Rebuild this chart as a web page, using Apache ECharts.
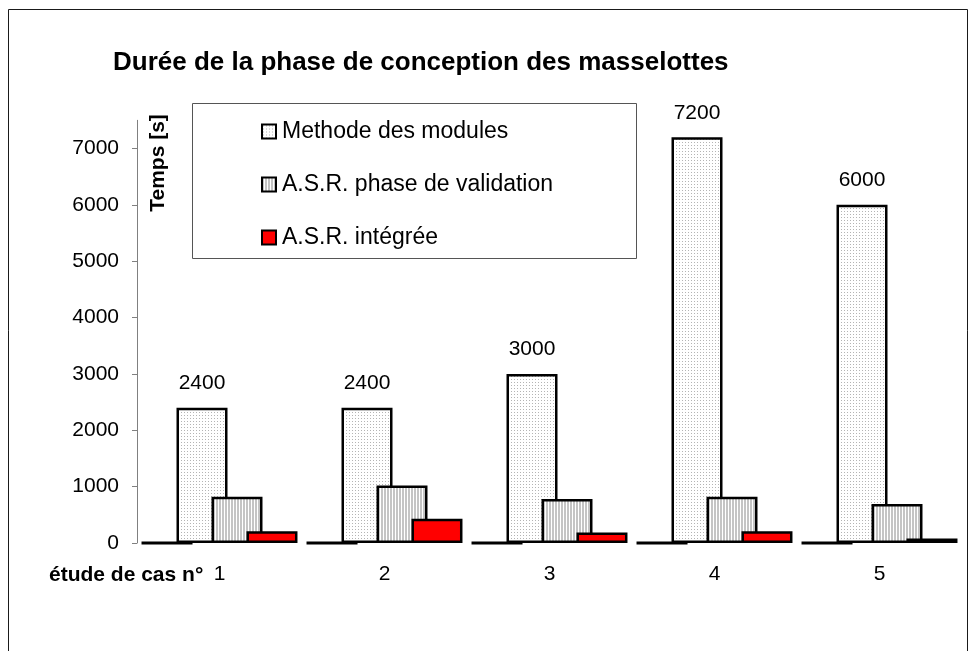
<!DOCTYPE html>
<html>
<head>
<meta charset="utf-8">
<script src="https://cdn.jsdelivr.net/npm/echarts@6/dist/echarts.min.js"></script>
<style>
  html, body { margin: 0; padding: 0; background: #fff; }
  #chart { width: 969px; height: 651px; }
</style>
</head>
<body>
<div id="chart"></div>
<script>
// Case studies on the category axis
const categories = ['1', '2', '3', '4', '5'];
// Empty leading series of each group (drawn as the thick baseline stub)
const baseSeries = [0, 0, 0, 0, 0];
// Durations in seconds
const methodeModules = [2400, 2400, 3000, 7200, 6000];
const asrValidation = [820, 1020, 780, 820, 690];
const asrIntegree = [210, 430, 185, 210, 80];
// Value axis ticks
const yTicks = [0, 1000, 2000, 3000, 4000, 5000, 6000, 7000];
const yMax = 7500;

const FONT = '"Liberation Sans", Arial, sans-serif';
const BORDER = 2.5;

// Fine dotted fill
function dotPattern() {
  const c = document.createElement('canvas');
  c.width = 3; c.height = 3;
  const g = c.getContext('2d');
  g.fillStyle = '#ffffff';
  g.fillRect(0, 0, 3, 3);
  g.fillStyle = '#b4b4b4';
  g.fillRect(1, 1, 1, 1);
  return { image: c, repeat: 'repeat' };
}
// Vertical gray stripes
function stripePattern() {
  const c = document.createElement('canvas');
  c.width = 3; c.height = 3;
  const g = c.getContext('2d');
  g.fillStyle = '#ffffff';
  g.fillRect(0, 0, 3, 3);
  g.fillStyle = '#c4c4c4';
  g.fillRect(0, 0, 2, 3);
  return { image: c, repeat: 'repeat' };
}

const chart = echarts.init(document.getElementById('chart'), null, { renderer: 'canvas' });

const barCommon = {
  type: 'bar',
  barWidth: 51,
  barGap: '-31.4%',
  animation: false
};

chart.setOption({
  backgroundColor: '#ffffff',
  animation: false,
  title: {
    text: 'Durée de la phase de conception des masselottes',
    left: 113,
    top: 50,
    padding: 0,
    textStyle: { fontFamily: FONT, fontSize: 26, fontWeight: 'bold', color: '#000' }
  },
  legend: {
    data: ['Methode des modules', 'A.S.R. phase de validation', 'A.S.R. intégrée'],
    orient: 'vertical',
    left: 261,
    top: 120,
    padding: 0,
    itemWidth: 14,
    itemHeight: 14,
    itemGap: 30,
    icon: 'rect',
    itemStyle: { borderWidth: 2, borderColor: '#000' },
    textStyle: { fontFamily: FONT, fontSize: 23, color: '#000', padding: [0, 0, 0, 1] }
  },
  grid: {
    left: 137,
    right: 7,
    top: 120.3,
    bottom: 108,
    containLabel: false,
    outerBoundsMode: 'none'
  },
  xAxis: {
    type: 'category',
    data: categories,
    axisLine: { show: false },
    axisTick: { show: false },
    axisLabel: { fontFamily: FONT, fontSize: 21, color: '#000', margin: 21 }
  },
  yAxis: {
    type: 'value',
    min: 0,
    max: yMax,
    interval: 1000,
    splitLine: { show: false },
    axisLine: { show: true, lineStyle: { color: '#808080', width: 1 } },
    axisTick: { show: true, length: 5, lineStyle: { color: '#808080' }, customValues: yTicks },
    axisLabel: {
      fontFamily: FONT, fontSize: 21, color: '#000', margin: 18, customValues: yTicks,
      formatter: function (v) { return String(v); }
    }
  },
  graphic: [
    {
      type: 'rect',
      shape: { x: 8.5, y: 9.5, width: 959, height: 660 },
      style: { fill: 'none', stroke: '#1a1a1a', lineWidth: 1 },
      silent: true, z: -10
    },
    {
      type: 'rect',
      shape: { x: 192.5, y: 103.5, width: 444, height: 155 },
      style: { fill: '#fff', stroke: '#555', lineWidth: 1 },
      silent: true, z: -5
    },
    {
      type: 'text',
      x: 158, y: 163,
      rotation: Math.PI / 2,
      style: {
        text: 'Temps [s]', fontFamily: FONT, fontSize: 21, fontWeight: 'bold',
        fill: '#000', align: 'center', verticalAlign: 'middle'
      },
      silent: true
    },
    {
      type: 'text',
      x: 49, y: 575,
      style: {
        text: 'étude de cas n°', fontFamily: FONT, fontSize: 21, fontWeight: 'bold',
        fill: '#000', align: 'left', verticalAlign: 'middle'
      },
      silent: true
    }
  ],
  series: [
    Object.assign({}, barCommon, {
      name: 'base',
      data: baseSeries,
      itemStyle: { color: '#000', borderColor: '#000', borderWidth: 3 }
    }),
    Object.assign({}, barCommon, {
      name: 'Methode des modules',
      data: methodeModules,
      itemStyle: { color: dotPattern(), borderColor: '#000', borderWidth: BORDER },
      label: {
        show: true, position: 'top', distance: 14,
        fontFamily: FONT, fontSize: 21, color: '#000'
      }
    }),
    Object.assign({}, barCommon, {
      name: 'A.S.R. phase de validation',
      data: asrValidation,
      itemStyle: { color: stripePattern(), borderColor: '#000', borderWidth: BORDER }
    }),
    Object.assign({}, barCommon, {
      name: 'A.S.R. intégrée',
      data: asrIntegree,
      itemStyle: { color: '#ff0000', borderColor: '#000', borderWidth: BORDER }
    })
  ]
});
</script>
</body>
</html>
